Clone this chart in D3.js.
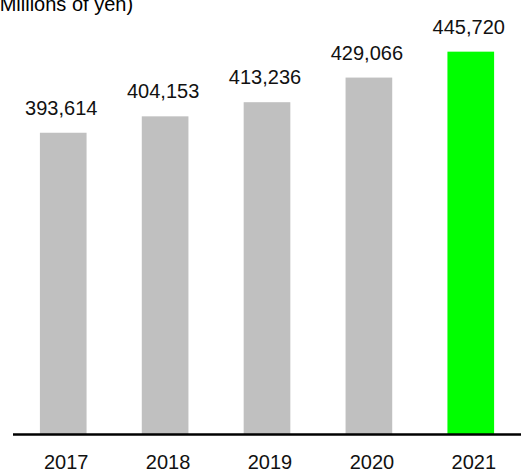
<!DOCTYPE html>
<html>
<head>
<meta charset="utf-8">
<script src="https://cdn.jsdelivr.net/npm/d3@7"></script>
<style>
  html, body { margin: 0; padding: 0; background: #fff; }
  svg { display: block; font-family: Arial, "Liberation Sans", sans-serif; }
</style>
</head>
<body>
<svg id="chart" width="521" height="475"></svg>
<script>
// Net sales by fiscal year (millions of yen)
const years = ["2017", "2018", "2019", "2020", "2021"];
const sales = [393614, 404153, 413236, 429066, 445720];
const unitLabel = "(Millions of yen)";

const svg = d3.select("#chart");

const x = d3.scaleBand()
  .domain(years)
  .range([13, 521])
  .paddingInner(0.542)
  .paddingOuter(0.264);

// value axis starts at 200,000 (truncated baseline)
const y = d3.scaleLinear()
  .domain([200000, 450000])
  .range([434, 45]);

const fmt = d3.format(",");
const latest = years[years.length - 1];

svg.append("text")
  .attr("x", -7)
  .attr("y", 11)
  .attr("font-size", 20)
  .attr("fill", "#000")
  .text(unitLabel);

const data = years.map((yr, i) => ({ yr, v: sales[i] }));

svg.selectAll("rect.bar")
  .data(data)
  .join("rect")
  .attr("class", "bar")
  .attr("x", d => x(d.yr))
  .attr("width", x.bandwidth())
  .attr("y", d => y(d.v))
  .attr("height", d => y.range()[0] - y(d.v))
  .attr("fill", d => d.yr === latest ? "#00ff00" : "#c0c0c0");

svg.selectAll("text.val")
  .data(data)
  .join("text")
  .attr("class", "val")
  .attr("x", d => x(d.yr) + x.bandwidth() / 2 - 2)
  .attr("y", d => y(d.v) - 18)
  .attr("text-anchor", "middle")
  .attr("font-size", 20)
  .attr("fill", "#111")
  .text(d => fmt(d.v));

// baseline axis
const axis = svg.append("g")
  .attr("transform", `translate(0,${y.range()[0]})`)
  .call(d3.axisBottom(x).tickSize(0).tickPadding(21));
axis.select(".domain")
  .attr("d", `M13,0.5H521`)
  .attr("stroke", "#000")
  .attr("stroke-width", 2.5);
axis.selectAll(".tick text")
  .attr("font-size", 20)
  .attr("font-family", "Arial, 'Liberation Sans', sans-serif")
  .attr("fill", "#111")
  .attr("dx", 3);
</script>
</body>
</html>
